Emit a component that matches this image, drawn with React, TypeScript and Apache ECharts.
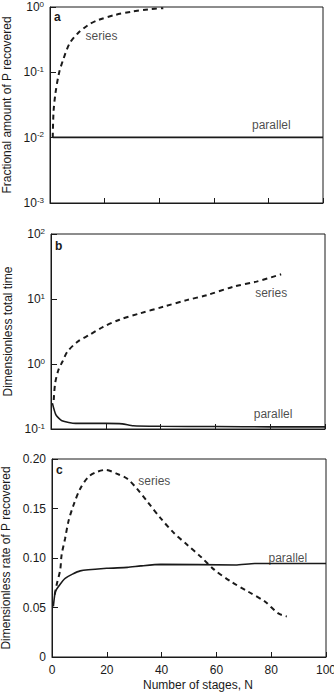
import React, { useEffect, useRef } from "react";
import * as echarts from "echarts";

// ---------- data ----------
const xTicks = [0, 20, 40, 60, 80, 100];

// panel a: fractional amount of P recovered (log)
const aSeriesN = [1, 1.3, 2, 3.3, 4.8, 7.2, 10.3, 14, 17.6, 23.8, 30, 36, 41.5];
const aSeriesV = [0.01, 0.025, 0.048, 0.097, 0.155, 0.278, 0.4, 0.53, 0.63, 0.755, 0.85, 0.92, 0.96];
const aParallelN = [1, 100];
const aParallelV = [0.0101, 0.0101];

// panel b: dimensionless total time (log)
const bSeriesN = [1, 1.5, 2.7, 4.2, 6, 9.7, 14, 18.9, 25, 32.4, 41, 49.5, 57, 66.7, 75, 84];
const bSeriesV = [0.28, 0.5, 0.81, 1.09, 1.55, 2.2, 2.8, 3.7, 4.8, 6.0, 7.6, 9.6, 11.5, 15.5, 18.5, 24];
const bParallelN = [0.5, 1.8, 4, 9, 20, 26, 30, 40, 60, 80, 100];
const bParallelV = [0.25, 0.165, 0.134, 0.122, 0.122, 0.12, 0.112, 0.11, 0.109, 0.108, 0.108];

// panel c: dimensionless rate of P recovered
const cSeriesN = [1, 1.7, 3, 3.5, 4.8, 6, 7.8, 10.3, 13.3, 16.4, 19.5, 23.8, 27.5, 31, 34.8, 39.7, 44.6, 49.5, 54.4, 59.3, 65.4, 71.6, 77.7, 82.6, 85.7];
const cSeriesV = [0.063, 0.073, 0.088, 0.103, 0.12, 0.137, 0.153, 0.17, 0.182, 0.187, 0.189, 0.185, 0.18, 0.17, 0.157, 0.14, 0.125, 0.113, 0.101, 0.088, 0.076, 0.066, 0.056, 0.044, 0.041];
const cParallelN = [0.5, 1.2, 2.3, 4.8, 10.3, 20, 27.5, 32.4, 39.7, 67, 74, 100];
const cParallelV = [0.051, 0.066, 0.071, 0.0795, 0.087, 0.0896, 0.0905, 0.092, 0.0936, 0.093, 0.0945, 0.0945];

const cYTicks = [0, 0.05, 0.1, 0.15, 0.2];

// annotations (data coordinates)
const aLabels = [
  { text: "series", n: 13, v: 0.36 },
  { text: "parallel", n: 74, v: 0.0155 },
];
const bLabels = [
  { text: "series", n: 74.5, v: 12.5 },
  { text: "parallel", n: 74, v: 0.17 },
];
const cLabels = [
  { text: "series", n: 31.5, v: 0.178 },
  { text: "parallel", n: 79, v: 0.0995 },
];

const yNames = [
  "Fractional amount of P recovered",
  "Dimensionless total time",
  "Dimensionless rate of P recovered",
];
const xName = "Number of stages, N";
const panelTags = ["a", "b", "c"];

// ---------- styles ----------
const FONT = "'Liberation Sans', Arial, Helvetica, sans-serif";
const INK = "#1a1a1a";

const zip = (xs: number[], ys: number[]) => xs.map((x, i) => [x, ys[i]]);

const supRich = {
  b: { fontSize: 12, fontFamily: FONT, color: INK, lineHeight: 14 },
  s: { fontSize: 8, fontFamily: FONT, color: INK, lineHeight: 14, verticalAlign: "top" as const, padding: [0, 0, 6, 0] },
};
const logFormatter = (v: number) => {
  const e = Math.round(Math.log10(v));
  return `{b|10}{s|${e}}`;
};

export default function App() {
  const ref = useRef<HTMLDivElement>(null);

  useEffect(() => {
    if (!ref.current) return;
    const chart = echarts.init(ref.current, undefined, { renderer: "svg" });

    const grids = [
      { left: 50, top: 7, width: 273, height: 196 },
      { left: 51, top: 234, width: 274, height: 195 },
      { left: 52, top: 459, width: 274, height: 198 },
    ].map((g) => ({
      ...g,
      show: true,
      borderColor: INK,
      borderWidth: 1,
      containLabel: false,
      outerBoundsMode: "none",
    }));

    const xAxes = [0, 1, 2].map((i) => ({
      type: "value" as const,
      gridIndex: i,
      min: 0,
      max: 100,
      interval: 20,
      axisLine: { show: true, lineStyle: { color: INK, width: 1 } },
      axisTick: { show: true, inside: true, length: 5, lineStyle: { color: INK } },
      axisLabel: {
        show: i === 2,
        margin: 7,
        fontSize: 12,
        fontFamily: FONT,
        color: INK,
        formatter: (v: number) => (xTicks.includes(v) ? String(v) : ""),
      },
      splitLine: { show: false },
      name: i === 2 ? xName : "",
      nameLocation: "middle" as const,
      nameGap: 22,
      nameTextStyle: { fontSize: 12, fontFamily: FONT, color: INK, padding: [0, 0, 0, 18] },
    }));

    const yCommon = {
      axisLine: { show: true, lineStyle: { color: INK, width: 1 } },
      axisTick: { show: true, inside: true, length: 6, lineStyle: { color: INK } },
      splitLine: { show: false },
      nameLocation: "middle" as const,
      nameGap: 36,
      nameRotate: 90,
      nameTextStyle: { fontSize: 12, fontFamily: FONT, color: INK },
    };

    const yAxes = [
      {
        ...yCommon,
        type: "log" as const,
        gridIndex: 0,
        logBase: 10,
        min: 0.001,
        max: 1,
        name: yNames[0],
        axisLabel: { margin: 6, formatter: logFormatter, rich: supRich },
      },
      {
        ...yCommon,
        type: "log" as const,
        gridIndex: 1,
        logBase: 10,
        min: 0.1,
        max: 100,
        name: yNames[1],
        axisLabel: { margin: 6, formatter: logFormatter, rich: supRich },
      },
      {
        ...yCommon,
        type: "value" as const,
        gridIndex: 2,
        min: 0,
        max: 0.2,
        interval: 0.05,
        name: yNames[2],
        axisLabel: {
          margin: 6,
          fontSize: 12,
          fontFamily: FONT,
          color: INK,
          formatter: (v: number) => {
            const t = cYTicks.find((c) => Math.abs(c - v) < 1e-9);
            return t === undefined ? "" : t === 0 ? "0" : t.toFixed(2);
          },
        },
      },
    ];

    const dashed = (idx: number, data: number[][]) => ({
      type: "line" as const,
      xAxisIndex: idx,
      yAxisIndex: idx,
      data,
      showSymbol: false,
      symbol: "none",
      smooth: 0.3,
      lineStyle: { color: INK, width: 2, type: [5, 4] as number[] },
      silent: true,
      z: 3,
    });
    const solid = (idx: number, data: number[][]) => ({
      type: "line" as const,
      xAxisIndex: idx,
      yAxisIndex: idx,
      data,
      showSymbol: false,
      symbol: "none",
      smooth: 0.2,
      lineStyle: { color: INK, width: 1.6 },
      silent: true,
      z: 3,
    });
    const labels = (idx: number, items: { text: string; n: number; v: number }[]) => ({
      type: "scatter" as const,
      xAxisIndex: idx,
      yAxisIndex: idx,
      symbolSize: 0,
      silent: true,
      data: items.map((it) => ({ value: [it.n, it.v], name: it.text })),
      label: {
        show: true,
        position: "inside" as const,
        align: "left" as const,
        verticalAlign: "middle" as const,
        formatter: (p: any) => p.name,
        fontSize: 12,
        fontFamily: FONT,
        color: INK,
      },
    });

    const tagPos = [
      { x: 54, y: 11 },
      { x: 55, y: 240 },
      { x: 56, y: 464 },
    ];

    chart.setOption({
      animation: false,
      backgroundColor: "#ffffff",
      textStyle: { fontFamily: FONT },
      grid: grids,
      xAxis: xAxes,
      yAxis: yAxes,
      series: [
        dashed(0, zip(aSeriesN, aSeriesV)),
        solid(0, zip(aParallelN, aParallelV)),
        labels(0, aLabels),
        dashed(1, zip(bSeriesN, bSeriesV)),
        solid(1, zip(bParallelN, bParallelV)),
        labels(1, bLabels),
        dashed(2, zip(cSeriesN, cSeriesV)),
        solid(2, zip(cParallelN, cParallelV)),
        labels(2, cLabels),
      ],
      graphic: panelTags.map((t, i) => ({
        type: "text",
        left: tagPos[i].x,
        top: tagPos[i].y,
        style: { text: t, fontSize: 12, fontWeight: "bold", fontFamily: FONT, fill: INK },
      })),
    });

    return () => chart.dispose();
  }, []);

  return (
    <div
      ref={ref}
      style={{ position: "fixed", left: 0, top: 0, width: 334, height: 695, background: "#fff" }}
    />
  );
}
